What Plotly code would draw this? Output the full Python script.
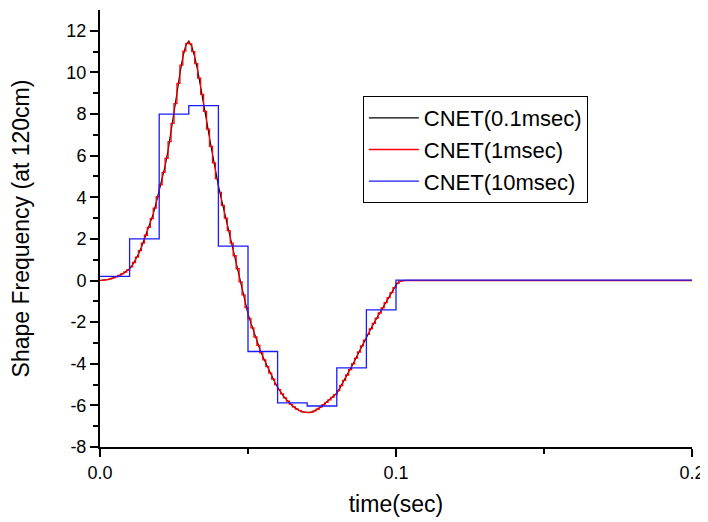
import plotly.graph_objects as go

# CNET values read at 1 ms intervals from t = 0 to t = 0.103 s (then zero to 0.2 s)
cnet_values = [
    0.00, 0.01, 0.03, 0.06, 0.10, 0.15, 0.21, 0.28, 0.36, 0.45,
    0.56, 0.75, 0.98, 1.27, 1.60, 2.00, 2.35, 2.75, 3.20, 3.75,
    4.30, 4.90, 5.50, 6.25, 7.10, 8.00, 9.00, 9.95, 10.75, 11.30,
    11.50, 11.25, 10.75, 10.10, 9.35, 8.55, 7.70, 6.85, 6.05, 5.25,
    4.55, 3.92, 3.30, 2.70, 2.10, 1.50, 0.88, 0.25, -0.38, -1.00,
    -1.60, -2.05, -2.50, -2.93, -3.30, -3.65, -3.98, -4.30, -4.60, -4.88,
    -5.13, -5.35, -5.55, -5.72, -5.88, -6.02, -6.13, -6.22, -6.29, -6.33,
    -6.35, -6.34, -6.30, -6.23, -6.14, -6.03, -5.91, -5.80, -5.68, -5.55,
    -5.42, -5.17, -4.92, -4.67, -4.41, -4.15, -3.87, -3.58, -3.29, -3.00,
    -2.72, -2.45, -2.19, -1.93, -1.68, -1.44, -1.19, -0.94, -0.70, -0.46,
    -0.22, -0.06, -0.01, 0.00,
]
tail_time = [0.2]
tail_value = [0.0]

# 10 ms step values
step10_edges = [0.0, 0.01, 0.02, 0.03, 0.04, 0.05, 0.06, 0.07, 0.08, 0.09, 0.10, 0.20]
step10_values = [0.20, 2.00, 8.00, 8.40, 1.65, -3.41, -5.88, -6.03, -4.20, -1.41, 0.02, 0.02]

legend_names = ["CNET(0.1msec)", "CNET(1msec)", "CNET(10msec)"]

x_tick_vals = [0, 0.1, 0.2]
x_tick_text = ["0.0", "0.1", "0.2"]
y_tick_vals = [-8, -6, -4, -2, 0, 2, 4, 6, 8, 10, 12]
y_tick_text = ["-8", "-6", "-4", "-2", "0", "2", "4", "6", "8", "10", "12"]

t_fine = [i / 1000 for i in range(len(cnet_values))] + tail_time
v_fine = cnet_values + tail_value

fig = go.Figure()
fig.add_trace(go.Scatter(x=t_fine, y=v_fine, mode="lines", name=legend_names[0],
                         line=dict(color="black", width=1.2)))
fig.add_trace(go.Scatter(x=t_fine, y=v_fine, mode="lines", name=legend_names[1],
                         line=dict(color="red", width=1.3, shape="vhv")))
fig.add_trace(go.Scatter(x=step10_edges, y=step10_values, mode="lines", name=legend_names[2],
                         line=dict(color="#1a1aff", width=1.3, shape="hv")))

font_family = "Liberation Sans, Arial, sans-serif"
fig.update_layout(
    width=700, height=514,
    margin=dict(l=92, r=16, t=2, b=75),
    paper_bgcolor="white", plot_bgcolor="white",
    font=dict(family=font_family, color="black", size=18),
    showlegend=True,
    legend=dict(x=0.444, y=0.803, xanchor="left", yanchor="top",
                bgcolor="white", bordercolor="black", borderwidth=1,
                font=dict(size=22, family=font_family), itemwidth=50),
    xaxis=dict(range=[0, 0.2], tickvals=x_tick_vals, ticktext=x_tick_text, automargin=False,
               showgrid=False, zeroline=False, showline=True, linecolor="black", linewidth=2,
               ticks="outside", ticklen=8, tickwidth=1.5, tickcolor="black",
               minor=dict(tickvals=[0.05, 0.15], ticks="outside", ticklen=5, tickwidth=1.5, tickcolor="black"),
               tickfont=dict(size=18),
               title=dict(text="time(sec)", font=dict(size=23), standoff=14)),
    yaxis=dict(range=[-8, 13], tickvals=y_tick_vals, ticktext=y_tick_text, automargin=False,
               showgrid=False, zeroline=False, showline=True, linecolor="black", linewidth=2,
               ticks="outside", ticklen=8, tickwidth=1.5, tickcolor="black",
               minor=dict(tickvals=[-7, -5, -3, -1, 1, 3, 5, 7, 9, 11], ticks="outside", ticklen=5,
                          tickwidth=1.5, tickcolor="black"),
               tickfont=dict(size=18),
               title=dict(text="Shape Frequency (at 120cm)", font=dict(size=23), standoff=30)),
)

fig.write_html("out.html")
